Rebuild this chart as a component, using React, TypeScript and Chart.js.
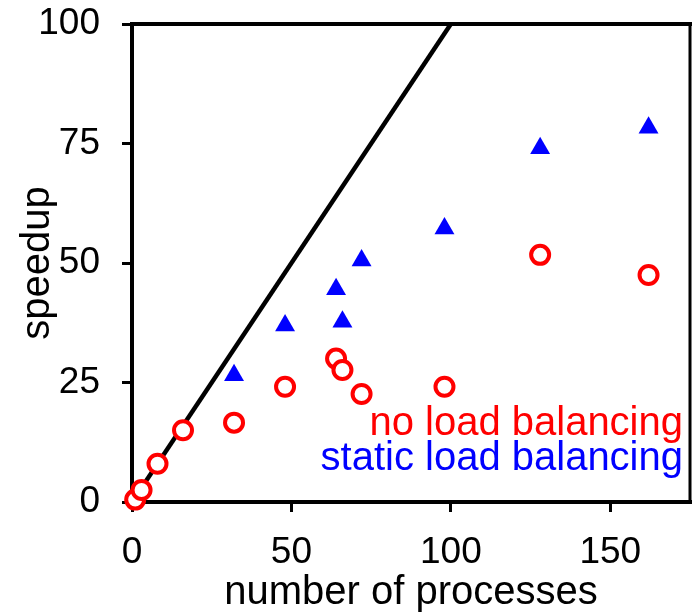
import React, { useEffect, useRef } from "react";
import { Chart, registerables } from "chart.js";

Chart.register(...registerables);

const noLbProcesses = [1, 3, 8, 16, 32, 48, 64, 66, 72, 98, 128, 162];
const noLbSpeedup = [0.5, 2.5, 8, 15, 16.6, 24.1, 30, 27.6, 22.6, 24.1, 51.7, 47.5];
const staticProcesses = [32, 48, 64, 66, 72, 98, 128, 162];
const staticSpeedup = [26.5, 36.9, 44.5, 37.7, 50.5, 57.2, 74, 78.3];
const idealX = [0, 100];
const idealY = [0, 100];
const legendLabels = ["no load balancing", "static load balancing"];
const legendColors = ["#ff0000", "#0000ff"];

const FONT = '"Liberation Sans", Arial, Helvetica, sans-serif';

const framePlugin = {
  id: "frame",
  beforeDatasetsDraw(chart: any) {
    const { ctx, chartArea: a } = chart;
    ctx.save();
    ctx.strokeStyle = "#000";
    ctx.lineCap = "square";
    ctx.lineWidth = 4;
    ctx.beginPath();
    ctx.moveTo(a.right, a.top);
    ctx.lineTo(a.left, a.top);
    ctx.lineTo(a.left, a.bottom);
    ctx.lineTo(a.right, a.bottom);
    ctx.stroke();
    ctx.lineWidth = 3;
    ctx.beginPath();
    ctx.moveTo(a.right, a.top);
    ctx.lineTo(a.right, a.bottom);
    ctx.stroke();
    ctx.restore();
  },
  afterDatasetsDraw(chart: any) {
    const { ctx, chartArea: a } = chart;
    ctx.save();
    ctx.font = `40px ${FONT}`;
    ctx.textAlign = "right";
    ctx.textBaseline = "alphabetic";
    ctx.fillStyle = legendColors[0];
    ctx.fillText(legendLabels[0], a.right - 7, a.bottom - 67);
    ctx.fillStyle = legendColors[1];
    ctx.fillText(legendLabels[1], a.right - 7, a.bottom - 32);
    ctx.restore();
  },
};

const zeroPad = (s: any) => {
  s.paddingTop = 0;
  s.paddingBottom = 0;
  s.paddingLeft = 0;
  s.paddingRight = 0;
};

export default function App() {
  const ref = useRef<HTMLCanvasElement | null>(null);
  useEffect(() => {
    if (!ref.current) return;
    const chart = new Chart(ref.current, {
      type: "scatter",
      data: {
        datasets: [
          {
            label: legendLabels[0],
            data: noLbProcesses.map((x, i) => ({ x, y: noLbSpeedup[i] })),
            pointStyle: "circle",
            pointRadius: 9,
            pointBorderWidth: 4,
            pointBorderColor: legendColors[0],
            pointBackgroundColor: "#ffffff",
            clip: false,
          } as any,
          {
            label: legendLabels[1],
            data: staticProcesses.map((x, i) => ({ x, y: staticSpeedup[i] })),
            pointStyle: "triangle",
            pointRadius: 11.5,
            pointBorderWidth: 0,
            pointBorderColor: legendColors[1],
            pointBackgroundColor: legendColors[1],
            clip: false,
          } as any,
          {
            type: "line",
            label: "ideal",
            data: idealX.map((x, i) => ({ x, y: idealY[i] })),
            borderColor: "#000000",
            borderWidth: 4.5,
            pointRadius: 0,
            showLine: true,
            fill: false,
          } as any,
        ],
      },
      options: {
        responsive: false,
        animation: false,
        layout: { autoPadding: false, padding: { top: 24, right: 6, left: 0, bottom: 0 } },
        plugins: {
          legend: { display: false },
          tooltip: { enabled: false },
          title: { display: false },
        },
        scales: {
          x: {
            type: "linear",
            min: 0,
            max: 175,
            afterFit: (s: any) => {
              s.height = 111;
              zeroPad(s);
            },
            ticks: {
              stepSize: 50,
              includeBounds: false,
              color: "#000",
              font: { family: FONT, size: 37 },
              padding: 19,
              maxRotation: 0,
            },
            grid: {
              display: true,
              drawOnChartArea: false,
              drawTicks: true,
              tickLength: 10,
              tickWidth: 3,
              tickColor: "#000",
            },
            border: { display: false },
            title: {
              display: true,
              text: "number of processes",
              color: "#000",
              font: { family: FONT, size: 40, lineHeight: 1 },
              padding: { top: 0, bottom: 0 },
            },
          } as any,
          y: {
            type: "linear",
            min: 0,
            max: 100,
            afterFit: (s: any) => {
              s.width = 132;
              zeroPad(s);
            },
            ticks: {
              stepSize: 25,
              includeBounds: false,
              color: "#000",
              font: { family: FONT, size: 37 },
              padding: 22,
            },
            grid: {
              display: true,
              drawOnChartArea: false,
              drawTicks: true,
              tickLength: 10,
              tickWidth: 3,
              tickColor: "#000",
            },
            border: { display: false },
            title: {
              display: true,
              text: "speedup",
              color: "#000",
              font: { family: FONT, size: 40, lineHeight: 1 },
              padding: { top: 18, bottom: 0 },
            },
          } as any,
        },
      },
      plugins: [framePlugin],
    });
    return () => chart.destroy();
  }, []);
  return (
    <div style={{ position: "fixed", left: 0, top: 0, width: 696, height: 613, background: "#fff" }}>
      <canvas ref={ref} width={696} height={613} style={{ width: 696, height: 613, display: "block" }} />
    </div>
  );
}
